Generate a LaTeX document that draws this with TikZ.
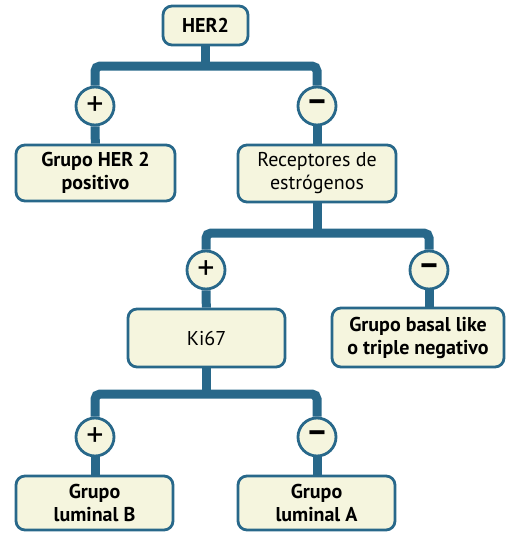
\documentclass[tikz,border=0pt]{standalone}
\usepackage{fontspec}
\setmainfont{PT Sans}
\usetikzlibrary{positioning, backgrounds}
\definecolor{treeblue}{RGB}{40,104,138}
\definecolor{treefill}{RGB}{245,245,222}
\tikzset{
  box/.style={rectangle, rounded corners=9pt, draw=treeblue, line width=2.8pt,
    fill=treefill, align=center, inner sep=2pt,
    font=\fontsize{20}{23}\selectfont\bfseries},
  plainbox/.style={box, font=\fontsize{20}{23}\selectfont},
  sign/.style={circle, draw=treeblue, line width=2.8pt, fill=treefill,
    minimum size=38pt, inner sep=0pt, font=\fontsize{34}{34}\selectfont},
  conn/.style={line width=9pt, color=treeblue, rounded corners=5pt},
}
\begin{document}
\begin{tikzpicture}[x=1pt, y=-1pt]
  \useasboundingbox (0,0) rectangle (525,533);

  % top level
  \node[box, minimum width=85pt, minimum height=39pt] (her2) at (205.5,25.5) {HER2};
  \node[sign] (pos1) at (95,106) {+};
  \node[sign] (neg1) at (317,106) {\bfseries –};
  \node[box, minimum width=159pt, minimum height=56pt] (her2pos) at (95.5,173)
    {Grupo HER 2\\positivo};
  \node[plainbox, minimum width=158pt, minimum height=57pt] (receptores) at (317,173.5)
    {Receptores de\\estrógenos};

  % receptores
  \node[sign] (pos2) at (206,270) {+};
  \node[sign] (neg2) at (429,270) {\bfseries –};
  \node[plainbox, minimum width=157pt, minimum height=58pt] (ki67) at (206.5,338) {Ki67};
  \node[box, minimum width=172pt, minimum height=59pt] (basal) at (418,337.5)
    {Grupo basal like\\o triple negativo};

  % ki67
  \node[sign] (pos3) at (95,437) {+};
  \node[sign] (neg3) at (317,437) {\bfseries –};
  \node[box, minimum width=157pt, minimum height=54pt] (lumB) at (94.5,503)
    {Grupo\\luminal B};
  \node[box, minimum width=157pt, minimum height=54pt] (lumA) at (316.5,503)
    {Grupo\\luminal A};

  \begin{scope}[on background layer]
    \coordinate (j1) at (her2.south |- 0,66);
    \coordinate (j2) at (receptores.south |- 0,233);
    \coordinate (j3) at (ki67.south |- 0,394);
    \draw[conn] (her2) -- (j1);
    \draw[conn] (pos1) |- (j1) -| (neg1);
    \draw[conn] (pos1) -- (her2pos);
    \draw[conn] (neg1) -- (receptores);
    \draw[conn] (receptores) -- (j2);
    \draw[conn] (pos2) |- (j2) -| (neg2);
    \draw[conn] (pos2) -- (ki67);
    \draw[conn] (neg2) -- (neg2 |- basal.north);
    \draw[conn] (ki67) -- (j3);
    \draw[conn] (pos3) |- (j3) -| (neg3);
    \draw[conn] (pos3) -- (pos3 |- lumB.north);
    \draw[conn] (neg3) -- (neg3 |- lumA.north);
  \end{scope}
\end{tikzpicture}
\end{document}
